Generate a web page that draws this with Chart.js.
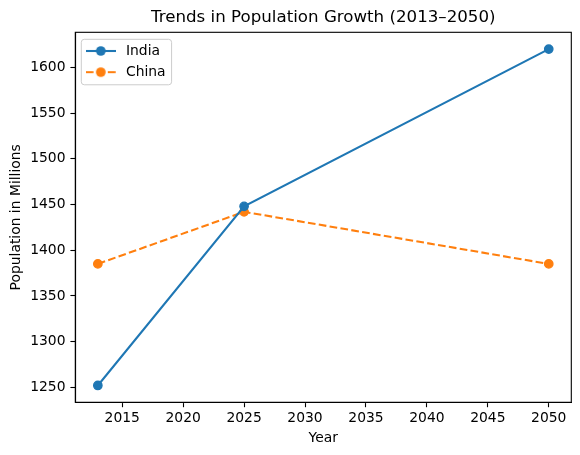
<!DOCTYPE html>
<html>
<head>
<meta charset="utf-8">
<script src="https://cdn.jsdelivr.net/npm/chart.js@4.4.1/dist/chart.umd.min.js"></script>
<style>
  html, body { margin: 0; padding: 0; background: #fff; }
  #wrap { width: 580px; height: 455px; }
</style>
</head>
<body>
<div id="wrap"><canvas id="chart" width="580" height="455"></canvas></div>
<script>
// data
const years = [2013, 2025, 2050];
const india = [1252, 1448, 1620];
const china = [1385, 1442, 1385];
const xTicks = [2015, 2020, 2025, 2030, 2035, 2040, 2045, 2050];
const yTicks = [1250, 1300, 1350, 1400, 1450, 1500, 1550, 1600];

const blue = '#1f77b4';
const orange = '#ff7f0e';

Chart.defaults.font.family = "'DejaVu Sans', sans-serif";
Chart.defaults.font.size = 13.89;
Chart.defaults.color = '#000';

// legend handle: short line with a dot in the middle, like matplotlib
const makeHandle = (color, dash) => {
    const c = document.createElement('canvas');
    c.width = 30;
    c.height = 12;
    const g = c.getContext('2d');
    g.strokeStyle = color;
    g.lineWidth = 2.08;
    g.setLineDash(dash);
    g.beginPath();
    g.moveTo(0, 6);
    g.lineTo(30, 6);
    g.stroke();
    g.fillStyle = color;
    g.beginPath();
    g.arc(15, 6, 4.86, 0, Math.PI * 2);
    g.fill();
    return c;
};
const handles = [makeHandle(blue, []), makeHandle(orange, [7.7, 3.3])];

// axis limits with matplotlib's 5% margin
const pad = (arr) => {
    const lo = Math.min(...arr), hi = Math.max(...arr);
    const m = (hi - lo) * 0.05;
    return [lo - m, hi + m];
};
const [xMin, xMax] = pad(years);
const [yMin, yMax] = pad(india.concat(china));

const frame = {
    id: 'frame',
    // the vertical legend in 'chartArea' ends up at top 0, move it into the axes
    afterLayout(chart) {
        const lg = chart.legend;
        if (!lg) return;
        const dy = chart.chartArea.top + 4.4 - lg.top;
        lg.top += dy;
        lg.bottom += dy;
        lg.legendHitBoxes.forEach(h => { h.top += dy; });
    },
    beforeDraw(chart) {
        const lg = chart.legend;
        if (!lg || !lg.legendHitBoxes.length) return;
        const hb = lg.legendHitBoxes;
        const left = hb[0].left - 1.3;
        const top = hb[0].top - 4.7;
        const right = Math.max(...hb.map(h => h.left + h.width)) + 6;
        const last = hb[hb.length - 1];
        const bottom = last.top + last.height + 5.7;
        const ctx = chart.ctx;
        ctx.save();
        ctx.fillStyle = 'rgba(255,255,255,0.8)';
        ctx.strokeStyle = '#cccccc';
        ctx.lineWidth = 1;
        ctx.beginPath();
        ctx.roundRect(left, top, right - left, bottom - top, 3);
        ctx.fill();
        ctx.stroke();
        ctx.restore();
    },
    afterDatasetsDraw(chart) {
        const a = chart.chartArea;
        const ctx = chart.ctx;
        ctx.save();
        ctx.strokeStyle = '#000';
        ctx.lineWidth = 1.1;
        ctx.strokeRect(a.left, a.top, a.right - a.left, a.bottom - a.top);
        ctx.restore();
    }
};

const axisStyle = {
    border: { display: true, color: '#000', width: 1.1 },
    grid: { drawOnChartArea: false, drawTicks: true, tickLength: 4.9, tickColor: '#000', tickWidth: 1.1 },
};

new Chart(document.getElementById('chart'), {
    type: 'line',
    data: {
        datasets: [{
            label: 'India',
            data: years.map((y, i) => ({x: y, y: india[i]})),
            borderColor: blue,
            backgroundColor: blue,
            borderWidth: 2.08,
            pointRadius: 4.17,
            pointBorderWidth: 1.39,
            pointBorderColor: blue,
            pointBackgroundColor: blue,
            tension: 0,
        }, {
            label: 'China',
            data: years.map((y, i) => ({x: y, y: china[i]})),
            borderColor: orange,
            backgroundColor: orange,
            borderWidth: 2.08,
            borderDash: [7.7, 3.3],
            pointRadius: 4.17,
            pointBorderWidth: 1.39,
            pointBorderColor: orange,
            pointBackgroundColor: orange,
            tension: 0,
        }]
    },
    options: {
        responsive: false,
        animation: false,
        devicePixelRatio: 1,
        layout: { padding: { left: 0, right: 8.7, top: 0, bottom: 0 } },
        plugins: {
            title: {
                display: true,
                fullSize: false,
                text: 'Trends in Population Growth (2013–2050)',
                color: '#000',
                font: { size: 16.67, weight: 'normal', lineHeight: 1.2 },
                padding: { top: 8, bottom: 4.3 },
            },
            legend: {
                position: 'chartArea',
                align: 'start',
                labels: {
                    usePointStyle: true,
                    pointStyleWidth: 36.4,
                    padding: 7.3,
                    color: '#000',
                    font: { size: 13.89 },
                    generateLabels(chart) {
                        const items = Chart.defaults.plugins.legend.labels.generateLabels(chart);
                        items.forEach((it, i) => { it.pointStyle = handles[i]; });
                        return items;
                    }
                }
            },
            tooltip: { enabled: false },
        },
        scales: {
            x: {
                type: 'linear',
                min: xMin,
                max: xMax,
                ...axisStyle,
                afterBuildTicks: (scale) => { scale.ticks = xTicks.map(v => ({value: v})); },
                afterFit: (scale) => { scale.height = 52.7; },
                ticks: { padding: 3, maxRotation: 0, callback: (v) => String(v) },
                title: { display: true, text: 'Year', padding: { top: 0, bottom: 8.7 } },
            },
            y: {
                type: 'linear',
                min: yMin,
                max: yMax,
                ...axisStyle,
                afterBuildTicks: (scale) => { scale.ticks = yTicks.map(v => ({value: v})); },
                afterFit: (scale) => { scale.width = 75.3; },
                ticks: { padding: 4.9, callback: (v) => String(v) },
                title: { display: true, text: 'Population in Millions', padding: { top: 7.7, bottom: 0 } },
            }
        }
    },
    plugins: [frame]
});
</script>
</body>
</html>
